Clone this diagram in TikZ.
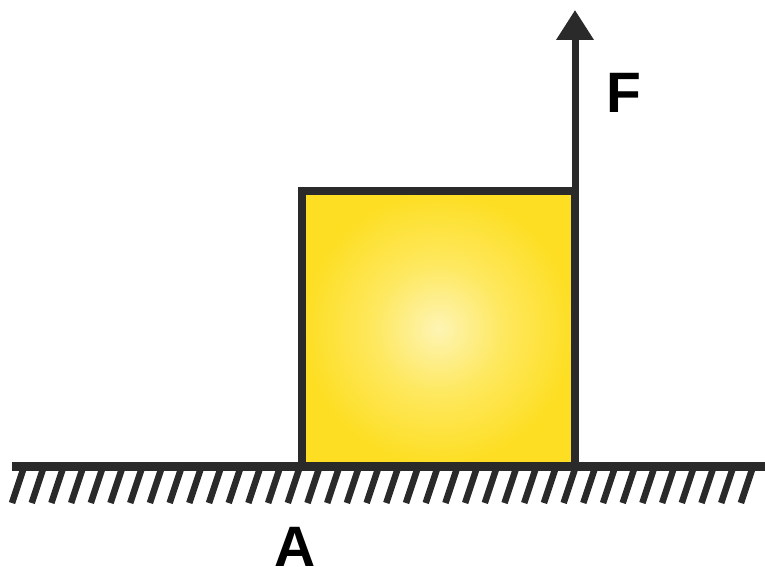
\documentclass[tikz,border=0pt]{standalone}
\usepackage{fontspec}
\setmainfont{Liberation Sans}
\usetikzlibrary{arrows.meta}
\definecolor{ink}{HTML}{2A2A2A}
\definecolor{shadein}{HTML}{FEF4B4}
\definecolor{shademid}{HTML}{FEE85E}
\definecolor{shadeout}{HTML}{FDDE22}
\pgfdeclareradialshading{blockshade}{\pgfpoint{0bp}{0bp}}{%
  color(0bp)=(shadein);
  color(12bp)=(shademid);
  color(25bp)=(shadeout);
  color(50bp)=(shadeout)}
\begin{document}
\begin{tikzpicture}[x=1pt,y=-1pt,
  lbl/.style={font=\fontsize{57}{60}\selectfont\bfseries, text=black, inner sep=0pt, anchor=base},
  block/.style={draw=ink, line width=8pt, inner sep=0pt, outer sep=0pt, minimum width=273pt, minimum height=275pt, shading=blockshade},
  ground/.style={draw=ink, line width=9pt},
  hatch/.style={draw=ink, line width=6.5pt},
  force/.style={draw=ink, line width=7pt, -{Triangle[width=36pt,length=30pt]}}]
\useasboundingbox (0,0) rectangle (765,567);
\draw[ground] (12,466.5) -- (765,466.5);
\foreach \i in {0,...,37} {
  \draw[hatch] (23+\i*19.7,470) -- (12+\i*19.7,503);
}
\node[block] (box) at (438.5,328.5) {};
\coordinate (tip) at (575,10);
\draw[force] (box.north east) -- (tip);
\node[lbl] (F) at (624,113) {F};
\node[lbl] (A) at (295,566) {A};
\end{tikzpicture}
\end{document}
